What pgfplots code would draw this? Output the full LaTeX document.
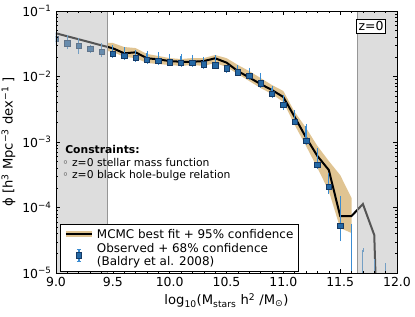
\documentclass[border=0pt]{standalone}
\usepackage{fontspec}
\setmainfont{DejaVu Sans}
\usepackage{pgfplots}
\pgfplotsset{compat=1.18}
\definecolor{band}{RGB}{224,196,146}
\definecolor{ptfill}{RGB}{36,104,165}
\definecolor{ptedge}{RGB}{22,58,100}
\definecolor{errc}{RGB}{58,140,210}
\definecolor{shade}{RGB}{182,182,182}
\definecolor{edgegray}{RGB}{150,150,150}
\begin{document}
\begin{tikzpicture}
\useasboundingbox (-56bp,-44bp) rectangle (359bp,273bp);
\begin{axis}[
  scale only axis, width=341bp, height=262bp,
  xmin=9, xmax=12, ymin=1e-5, ymax=1e-1, ymode=log,
  axis on top=true, clip marker paths=true,
  xtick={9,9.5,10,10.5,11,11.5,12},
  xticklabels={9.0,9.5,10.0,10.5,11.0,11.5,12.0},
  minor x tick num=4,
  ytick={1e-5,1e-4,1e-3,1e-2,1e-1},
  yticklabels={10\textsuperscript{−5},10\textsuperscript{−4},10\textsuperscript{−3},10\textsuperscript{−2},10\textsuperscript{−1}},
  tick align=inside, xtick pos=both, ytick pos=both,
  major tick length=4bp, minor tick length=2bp,
  tick style={black, line width=0.5bp},
  axis line style={black, line width=0.8bp},
  ticklabel style={font=\fontsize{12.5}{14}\selectfont},
  xticklabel style={yshift=-1bp},
  yticklabel style={xshift=-1bp},
  label style={font=\fontsize{13.2}{15}\selectfont},
  xlabel={log\textsubscript{10}(M\textsubscript{stars} h\textsuperscript{2} /M\textsubscript{⊙})},
  ylabel={ϕ [h\textsuperscript{3} Mpc\textsuperscript{−3} dex\textsuperscript{−1} ]},
  legend cell align=left,
  legend style={at={(rel axis cs:0.012,0.004)}, anchor=south west, draw=black, line width=0.8bp,
    font=\fontsize{12}{12.8}\selectfont, cells={anchor=west, align=left}, row sep=0bp, inner sep=2.5bp},
]
% 95% confidence band
\addplot[fill=band, draw=none, forget plot] coordinates {
 (9.45,0.0325) (9.5,0.0325) (9.6,0.0282) (9.7,0.0272) (9.8,0.0221) (9.9,0.0206) (10.0,0.0191)
 (10.1,0.0185) (10.2,0.0191) (10.3,0.0191) (10.4,0.0213) (10.5,0.0191) (10.6,0.0150) (10.7,0.0121)
 (10.8,0.00948) (10.9,0.00741) (11.0,0.00601) (11.1,0.00287) (11.2,0.00164) (11.3,8.69e-4)
 (11.4,5.13e-4) (11.5,3.13e-4) (11.6,1.40e-4)
 (11.6,4.08e-5) (11.5,4.86e-5) (11.4,1.79e-4) (11.3,4.01e-4) (11.2,8.69e-4) (11.1,0.00182)
 (11.0,0.00408) (10.9,0.00541) (10.8,0.00667) (10.7,0.00853) (10.6,0.0109) (10.5,0.0140)
 (10.4,0.0161) (10.3,0.0145) (10.2,0.0150) (10.1,0.0145) (10.0,0.0150) (9.9,0.0155) (9.8,0.0161)
 (9.7,0.0191) (9.6,0.0199) (9.5,0.0237) (9.45,0.0245)
};
% best fit line
\addplot[black, line width=2bp, forget plot] coordinates {
 (9.0,0.0457) (9.1,0.0411) (9.2,0.0370) (9.3,0.0333) (9.4,0.0299) (9.5,0.0270) (9.6,0.0226)
 (9.7,0.0234) (9.8,0.0190) (9.9,0.0183) (10.0,0.0172) (10.1,0.0168) (10.2,0.0168) (10.3,0.0172)
 (10.4,0.0190) (10.5,0.0163) (10.6,0.0121) (10.7,0.00966) (10.8,0.00767) (10.9,0.00622)
 (11.0,0.00486) (11.1,0.00241) (11.2,0.00117) (11.3,6.11e-4) (11.4,3.74e-4) (11.5,7.41e-5)
 (11.6,7.41e-5) (11.7,1.13e-4) (11.8,3.80e-5) (11.9,1e-10)
};
% observed points
\addplot[only marks, mark=square*, mark size=2.7bp,
  mark options={fill=ptfill, draw=ptedge, line width=0.5bp}, forget plot,
  error bars/.cd, y dir=both, y explicit,
  error bar style={errc, line width=1.2bp},
  error mark options={errc, mark size=2bp, line width=0.8bp}]
 coordinates {
 (9.0,0.0374) +=(0,0.0104) -=(0,0.0071)
 (9.1,0.0324) +=(0,0.0077) -=(0,0.0042)
 (9.2,0.0297) +=(0,0.0064) -=(0,0.0060)
 (9.3,0.0263) +=(0,0.0019) -=(0,0.0018)
 (9.4,0.0237) +=(0,0.0066) -=(0,0.0024)
 (9.5,0.0221) +=(0,0.0061) -=(0,0.0015)
 (9.6,0.0206) +=(0,0.0057) -=(0,0.0015)
 (9.7,0.0194) +=(0,0.0043) -=(0,0.0015)
 (9.8,0.01786) +=(0,0.0050) -=(0,0.0013)
 (9.9,0.01726) +=(0,0.0048) -=(0,0.0012)
 (10.0,0.01648) +=(0,0.0041) -=(0,0.0010)
 (10.1,0.01626) +=(0,0.0043) -=(0,0.0013)
 (10.2,0.01626) +=(0,0.0036) -=(0,0.0013)
 (10.3,0.01535) +=(0,0.0032) -=(0,0.0014)
 (10.4,0.01483) +=(0,0.0051) -=(0,0.0008)
 (10.5,0.01334) +=(0,0.0007) -=(0,0.0012)
 (10.6,0.01159) +=(0,0.0024) -=(0,0.0007)
 (10.7,0.01019) +=(0,0.0024) -=(0,0.0007)
 (10.8,0.00787) +=(0,0.0027) -=(0,0.0007)
 (10.9,0.00541) +=(0,0.00126) -=(0,0.00037)
 (11.0,0.00367) +=(0,0.00119) -=(0,0.00037)
 (11.1,0.00204) +=(0,0.00083) -=(0,0.00009)
 (11.2,0.001047) +=(0,0.00070) -=(0,0.00008)
 (11.3,4.46e-4) +=(0,3.09e-4) -=(0,0.31e-4)
 (11.4,2.08e-4) +=(0,1.05e-4) -=(0,0.35e-4)
 (11.5,5.22e-5) +=(0,8.78e-5) -=(0,1.92e-5)
};
% upper limits beyond the axis
\addplot[only marks, mark=none, forget plot,
  error bars/.cd, y dir=plus, y explicit,
  error bar style={errc, line width=1.2bp},
  error mark options={errc, mark size=2bp, line width=0.8bp}]
 coordinates {
 (11.6,1e-7) +=(0,5.21e-5)
 (11.7,1e-7) +=(0,2.23e-5)
 (11.8,1e-7) +=(0,1.51e-5)
 (11.9,1e-7) +=(0,1.31e-5)
};
% excluded mass ranges
\addplot[draw=none, fill=shade, fill opacity=0.47, forget plot] coordinates {(9,1e-5) (9.45,1e-5) (9.45,1e-1) (9,1e-1)};
\addplot[draw=none, fill=shade, fill opacity=0.47, forget plot] coordinates {(11.65,1e-5) (12,1e-5) (12,1e-1) (11.65,1e-1)};
\addplot[edgegray, line width=1.2bp, forget plot] coordinates {(9.45,1e-5) (9.45,1e-1)};
\addplot[edgegray, line width=1.2bp, forget plot] coordinates {(11.65,1e-5) (11.65,1e-1)};
% legend
\addlegendimage{legend image code/.code={
  \draw[band, line width=6bp] (0bp,0bp) -- (26bp,0bp);
  \draw[black, line width=2bp] (0bp,0bp) -- (26bp,0bp);}}
\addlegendentry{MCMC best fit + 95\% confidence}
\addlegendimage{legend image code/.code={
  \draw[errc, line width=1.2bp] (13bp,-6bp) -- (13bp,6bp);
  \draw[errc, line width=0.8bp] (11bp,6bp) -- (15bp,6bp) (11bp,-6bp) -- (15bp,-6bp);
  \filldraw[fill=ptfill, draw=ptedge, line width=0.5bp] (10.3bp,-2.7bp) rectangle (15.7bp,2.7bp);}}
\addlegendentry{Observed + 68\% confidence\\(Baldry et al. 2008)}
\node[anchor=north west, align=left, font=\fontsize{10.8}{12.6}\selectfont, inner sep=0pt]
  at (rel axis cs:0.018,0.487) {\hspace{3bp}\textbf{Constraints:}\\◦ z=0 stellar mass function\\◦ z=0 black hole-bulge relation};
\node[draw=black, fill=white, font=\fontsize{12.5}{14}\selectfont, inner sep=2.3bp, line width=0.8bp]
  at (rel axis cs:0.924,0.943) {z=0};
\end{axis}
\end{tikzpicture}
\end{document}
